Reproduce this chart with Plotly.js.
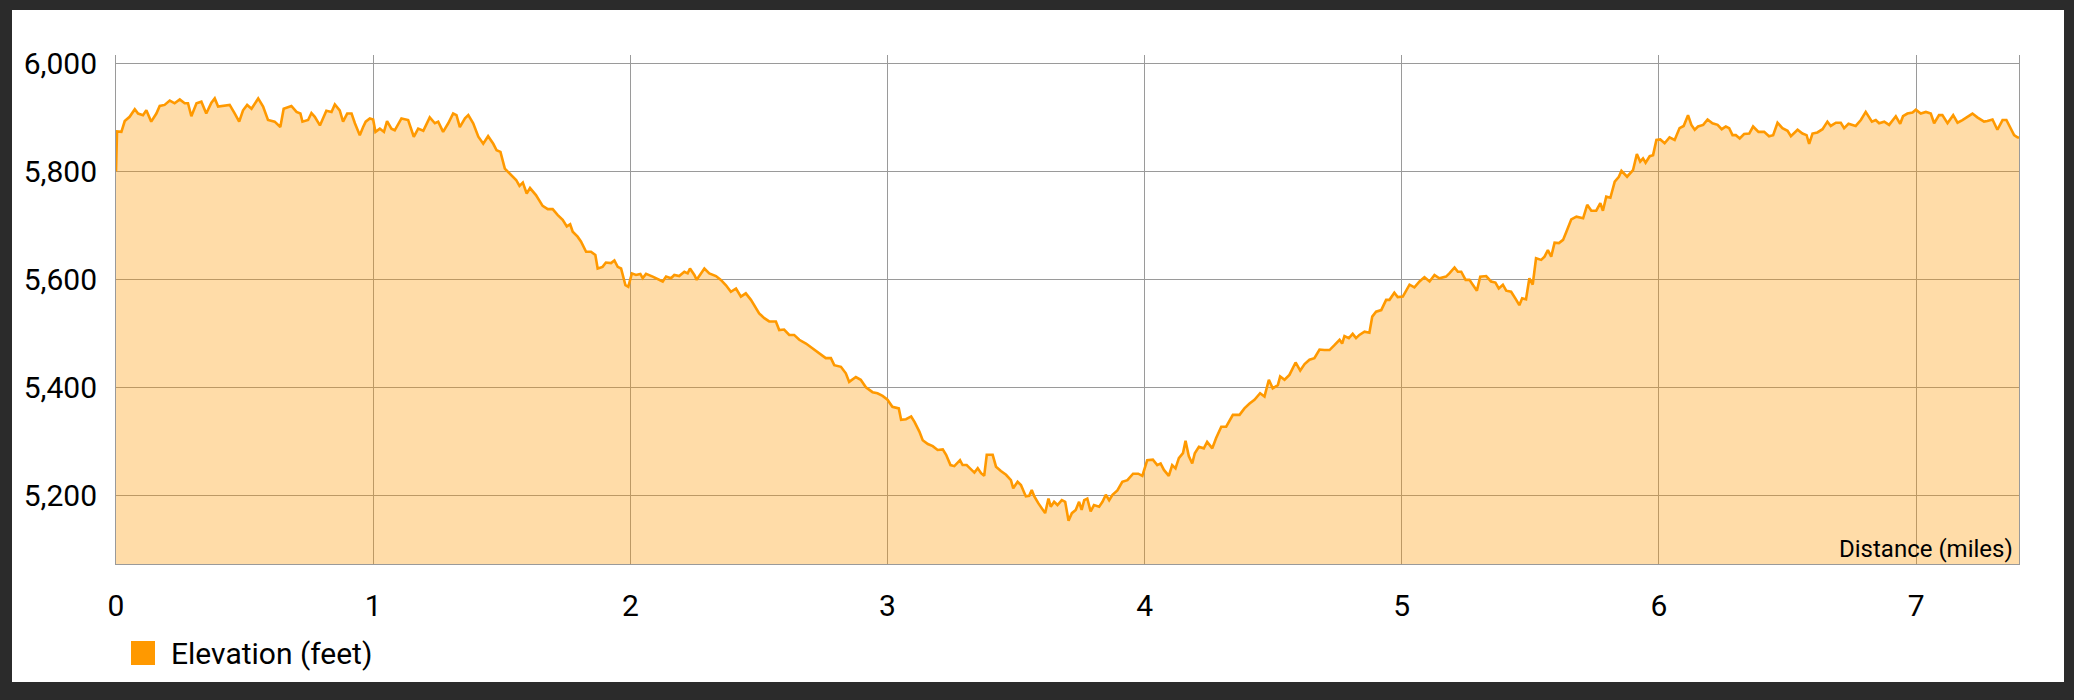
<!DOCTYPE html>
<html>
<head>
<meta charset="utf-8">
<script src="https://cdn.plot.ly/plotly-3.0.1.min.js"></script>
<style>
  html, body { margin: 0; padding: 0; background: #2b2b2b; width: 2074px; height: 700px; overflow: hidden; }
  #chart { position: absolute; left: 12px; top: 10px; width: 2052px; height: 672px; background: #ffffff; }
</style>
</head>
<body>
<div id="chart"></div>
<script>
// Distance along trail (miles)
const distanceMiles = [
  // 0 - 1.5
  0, 0.004, 0.021, 0.034, 0.053, 0.073, 0.086, 0.105, 0.118, 0.137,
  0.157, 0.170, 0.189, 0.209, 0.228, 0.248, 0.267, 0.280, 0.293, 0.313,
  0.332, 0.351, 0.371, 0.384, 0.397, 0.423, 0.442, 0.462, 0.479, 0.494,
  0.510, 0.527, 0.553, 0.572, 0.591, 0.617, 0.639, 0.652, 0.682, 0.702,
  0.717, 0.725, 0.747, 0.760, 0.773, 0.793, 0.818, 0.838, 0.851, 0.870,
  0.883, 0.899, 0.916, 0.929, 0.948, 0.961, 0.971, 0.987, 1.000, 1.009,
  1.026, 1.042, 1.054, 1.071, 1.084, 1.110, 1.136, 1.158, 1.175, 1.195,
  1.220, 1.240, 1.253, 1.272, 1.292, 1.311, 1.324, 1.337, 1.357, 1.370,
  1.389, 1.409, 1.428, 1.447, 1.467, 1.480, 1.495, 1.512,
  // 1.5 - 3.0
  1.536, 1.556, 1.569, 1.582, 1.597, 1.610, 1.633, 1.659, 1.679, 1.698,
  1.718, 1.737, 1.753, 1.766, 1.776, 1.795, 1.808, 1.828, 1.847, 1.864,
  1.873, 1.892, 1.905, 1.925, 1.938, 1.951, 1.964, 1.981, 1.992, 2.006,
  2.022, 2.039, 2.048, 2.061, 2.087, 2.106, 2.126, 2.139, 2.158, 2.171,
  2.190, 2.210, 2.223, 2.232, 2.249, 2.258, 2.275, 2.288, 2.307, 2.333,
  2.352, 2.372, 2.391, 2.411, 2.430, 2.449, 2.469, 2.482, 2.501, 2.521,
  2.540, 2.566, 2.579, 2.598, 2.618, 2.637, 2.657, 2.683, 2.709, 2.734,
  2.760, 2.780, 2.793, 2.819, 2.838, 2.851, 2.877, 2.896, 2.916, 2.942,
  2.961, 2.981, 3.000, 3.019,
  // 3.0 - 4.25
  3.044, 3.053, 3.072, 3.092, 3.105, 3.124, 3.137, 3.157, 3.176, 3.195,
  3.215, 3.228, 3.245, 3.260, 3.270, 3.282, 3.292, 3.308, 3.321, 3.338,
  3.351, 3.364, 3.376, 3.386, 3.409, 3.422, 3.441, 3.461, 3.480, 3.489,
  3.506, 3.519, 3.538, 3.551, 3.561, 3.571, 3.587, 3.596, 3.613, 3.626,
  3.635, 3.648, 3.661, 3.678, 3.691, 3.704, 3.717, 3.732, 3.745, 3.755,
  3.765, 3.777, 3.790, 3.803, 3.823, 3.836, 3.849, 3.862, 3.875, 3.894,
  3.913, 3.933, 3.955, 3.975, 3.991, 4.010, 4.032, 4.049, 4.062, 4.075,
  4.094, 4.107, 4.120, 4.133, 4.149, 4.159, 4.172, 4.185, 4.195, 4.211,
  4.230, 4.243,
  // 4.25 - 5.6
  4.263, 4.278, 4.298, 4.317, 4.343, 4.369, 4.388, 4.408, 4.427, 4.449,
  4.466, 4.483, 4.498, 4.518, 4.527, 4.544, 4.563, 4.587, 4.605, 4.622,
  4.641, 4.660, 4.680, 4.699, 4.719, 4.738, 4.758, 4.768, 4.777, 4.794,
  4.809, 4.822, 4.835, 4.855, 4.874, 4.885, 4.900, 4.920, 4.939, 4.952,
  4.971, 4.984, 5.004, 5.030, 5.049, 5.069, 5.088, 5.108, 5.127, 5.146,
  5.172, 5.185, 5.205, 5.218, 5.231, 5.248, 5.263, 5.276, 5.292, 5.305,
  5.328, 5.347, 5.364, 5.377, 5.393, 5.406, 5.425, 5.445, 5.457, 5.468,
  5.483, 5.496, 5.509, 5.522, 5.542, 5.555, 5.568, 5.581, 5.594,
  // 5.6 - 6.15
  5.611, 5.627, 5.640, 5.659, 5.679, 5.705, 5.721, 5.737, 5.756, 5.772,
  5.782, 5.795, 5.811, 5.828, 5.844, 5.854, 5.876, 5.899, 5.914, 5.927,
  5.938, 5.948, 5.964, 5.977, 5.990, 6.005, 6.022, 6.041, 6.061, 6.080,
  6.096, 6.113, 6.126, 6.139, 6.152,
  // 6.15 - 7.4
  6.172, 6.189, 6.208, 6.228, 6.244, 6.260, 6.273, 6.286, 6.299, 6.314,
  6.331, 6.351, 6.366, 6.387, 6.409, 6.428, 6.444, 6.461, 6.480, 6.500,
  6.513, 6.539, 6.558, 6.574, 6.584, 6.597, 6.616, 6.636, 6.655, 6.668,
  6.688, 6.707, 6.720, 6.737, 6.765, 6.785, 6.804, 6.828, 6.843, 6.856,
  6.876, 6.895, 6.921, 6.938, 6.949, 6.966, 6.986, 6.999, 7.018, 7.038,
  7.057, 7.070, 7.089, 7.102, 7.122, 7.144, 7.161, 7.180, 7.200, 7.219,
  7.238, 7.264, 7.277, 7.297, 7.316, 7.336, 7.351, 7.368, 7.381, 7.394,
  7.400
];

// Elevation (feet)
const elevationFeet = [
  // 0 - 1.5
  5800, 5874, 5873, 5893, 5901, 5915, 5907, 5904, 5913, 5892,
  5907, 5921, 5923, 5931, 5926, 5933, 5926, 5926, 5902, 5926,
  5929, 5907, 5927, 5935, 5920, 5921, 5923, 5907, 5892, 5913,
  5923, 5916, 5935, 5920, 5895, 5892, 5882, 5916, 5921, 5910,
  5907, 5892, 5895, 5908, 5901, 5885, 5912, 5910, 5924, 5913,
  5892, 5907, 5907, 5889, 5867, 5882, 5892, 5898, 5896, 5873,
  5879, 5873, 5893, 5879, 5876, 5898, 5895, 5864, 5879, 5875,
  5900, 5889, 5892, 5873, 5889, 5907, 5904, 5882, 5898, 5904,
  5889, 5864, 5851, 5865, 5851, 5839, 5836, 5805,
  // 1.5 - 3.0
  5793, 5784, 5773, 5779, 5759, 5769, 5756, 5736, 5730, 5730,
  5719, 5710, 5698, 5702, 5688, 5679, 5670, 5651, 5651, 5645,
  5620, 5623, 5631, 5630, 5635, 5623, 5620, 5589, 5586, 5611,
  5608, 5610, 5602, 5610, 5605, 5600, 5596, 5605, 5602, 5608,
  5606, 5614, 5611, 5620, 5608, 5599, 5610, 5620, 5611, 5606,
  5599, 5589, 5577, 5583, 5568, 5574, 5562, 5552, 5537, 5528,
  5522, 5522, 5506, 5507, 5497, 5497, 5488, 5481, 5472, 5463,
  5454, 5454, 5441, 5438, 5426, 5410, 5419, 5414, 5400, 5391,
  5389, 5384, 5377, 5364,
  // 3.0 - 4.25
  5361, 5340, 5341, 5346, 5336, 5318, 5302, 5295, 5291, 5284,
  5285, 5275, 5256, 5254, 5259, 5265, 5256, 5256, 5250, 5242,
  5250, 5241, 5236, 5275, 5275, 5253, 5245, 5238, 5228, 5213,
  5225, 5219, 5198, 5199, 5210, 5198, 5185, 5179, 5167, 5194,
  5179, 5188, 5182, 5191, 5188, 5153, 5167, 5173, 5188, 5173,
  5191, 5194, 5170, 5182, 5179, 5188, 5201, 5191, 5201, 5209,
  5225, 5228, 5240, 5240, 5236, 5265, 5266, 5256, 5259, 5247,
  5236, 5256, 5250, 5269, 5278, 5301, 5272, 5259, 5278, 5290,
  5287, 5299,
  // 4.25 - 5.6
  5287, 5306, 5327, 5327, 5349, 5349, 5361, 5370, 5377, 5389,
  5383, 5414, 5398, 5404, 5420, 5414, 5423, 5446, 5431, 5443,
  5451, 5454, 5470, 5469, 5469, 5478, 5488, 5481, 5495, 5491,
  5499, 5491, 5497, 5503, 5501, 5531, 5540, 5543, 5562, 5562,
  5575, 5567, 5568, 5590, 5585, 5596, 5604, 5596, 5608, 5602,
  5605, 5611, 5622, 5614, 5614, 5599, 5599, 5590, 5579, 5605,
  5606, 5596, 5594, 5583, 5590, 5579, 5577, 5562, 5552, 5565,
  5563, 5602, 5590, 5639, 5636, 5642, 5654, 5642, 5668,
  // 5.6 - 6.15
  5667, 5673, 5688, 5711, 5716, 5713, 5738, 5727, 5727, 5741,
  5727, 5753, 5751, 5781, 5790, 5801, 5790, 5802, 5832, 5818,
  5824, 5816, 5828, 5830, 5858, 5859, 5852, 5863, 5858, 5880,
  5884, 5904, 5886, 5877, 5883,
  // 6.15 - 7.4
  5886, 5896, 5889, 5886, 5878, 5883, 5880, 5867, 5867, 5861,
  5869, 5870, 5883, 5873, 5873, 5865, 5867, 5890, 5880, 5875,
  5865, 5877, 5870, 5867, 5851, 5870, 5872, 5878, 5892, 5884,
  5890, 5890, 5880, 5888, 5884, 5895, 5910, 5892, 5895, 5889,
  5892, 5886, 5902, 5888, 5902, 5907, 5909, 5914, 5907, 5910,
  5907, 5889, 5904, 5904, 5889, 5904, 5890, 5895, 5901, 5907,
  5900, 5892, 5893, 5896, 5877, 5895, 5895, 5880, 5867, 5863,
  5862
];

const yTickValues = [5200, 5400, 5600, 5800, 6000];
const xTickValues = [0, 1, 2, 3, 4, 5, 6, 7];
const seriesName = 'Elevation (feet)';
const xAxisTitle = 'Distance (miles)';

const lineColor = '#ff9900';
const gridColor = '#9a9a9a';
const fontFamily = 'Roboto, "Noto Sans", sans-serif';

const trace = {
  type: 'scatter',
  mode: 'lines',
  x: distanceMiles,
  y: elevationFeet,
  name: seriesName,
  line: { color: lineColor, width: 2.6 },
  fill: 'tozeroy',
  fillcolor: 'rgba(255,153,0,0.34)',
  hoverinfo: 'x+y',
  showlegend: false
};

// plot area geometry inside the div (pixels)
const W = 2052, H = 672, ML = 104, MR = 45, MT = 45, MB = 118;
const PW = W - ML - MR, PH = H - MT - MB;
const px = v => (v - ML) / PW;
const py = v => (H - MB - v) / PH;

const layout = {
  width: W,
  height: H,
  margin: { l: ML, r: MR, t: MT, b: MB, pad: 0 },
  paper_bgcolor: '#ffffff',
  plot_bgcolor: '#ffffff',
  font: { family: fontFamily, color: '#000000', size: 30 },
  showlegend: false,
  xaxis: {
    range: [0, 7.4],
    tickvals: xTickValues,
    ticktext: xTickValues.map(String),
    showgrid: true,
    gridcolor: gridColor,
    gridwidth: 1,
    zeroline: false,
    showline: true,
    linecolor: gridColor,
    linewidth: 1,
    ticks: '',
    ticklabelstandoff: 15,
    tickfont: { family: fontFamily, size: 30, color: '#000000' },
    fixedrange: true
  },
  yaxis: {
    range: [5072.8, 6015.4],
    tickvals: yTickValues,
    tickformat: ',d',
    showgrid: true,
    gridcolor: gridColor,
    gridwidth: 1,
    zeroline: false,
    showline: true,
    mirror: true,
    linecolor: gridColor,
    linewidth: 1,
    ticks: '',
    ticklabelstandoff: 12,
    tickfont: { family: fontFamily, size: 30, color: '#000000' },
    fixedrange: true
  },
  shapes: [
    {
      type: 'rect', xref: 'paper', yref: 'paper',
      x0: px(119), x1: px(143), y0: py(655), y1: py(631),
      fillcolor: lineColor, line: { width: 0 }
    }
  ],
  annotations: [
    {
      xref: 'paper', yref: 'paper',
      x: px(2002), y: 0, xanchor: 'right', yanchor: 'bottom',
      text: xAxisTitle, showarrow: false,
      font: { family: fontFamily, size: 24, color: '#000000' },
      borderpad: 0
    },
    {
      xref: 'paper', yref: 'paper',
      x: px(158), y: py(643), xanchor: 'left', yanchor: 'middle',
      text: seriesName, showarrow: false,
      font: { family: fontFamily, size: 30, color: '#000000' },
      borderpad: 0
    }
  ]
};

Plotly.newPlot('chart', [trace], layout, { displayModeBar: false, responsive: false });
</script>
</body>
</html>
